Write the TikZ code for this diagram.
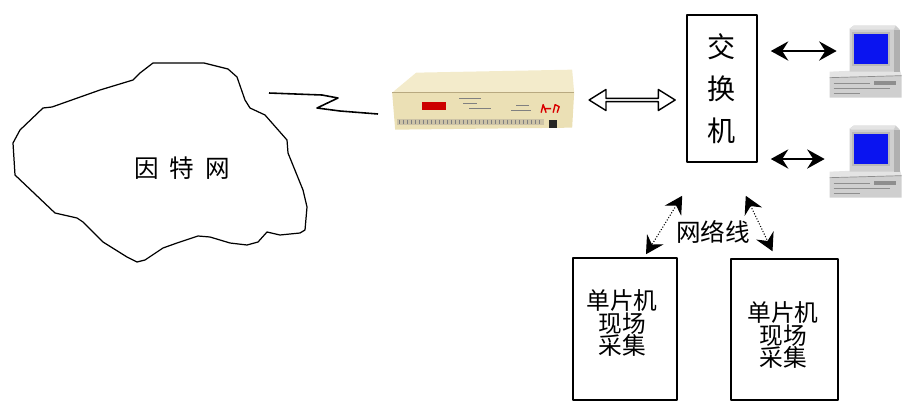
\documentclass[tikz,border=0pt]{standalone}
\usepackage{fontspec}
\newfontfamily\cjk{Noto Sans CJK SC}
\usepackage{xcolor}
\usetikzlibrary{arrows.meta,positioning,shapes.arrows}
\definecolor{modemTop}{HTML}{F3EBCB}
\definecolor{modemFace}{HTML}{EBE0B5}
\definecolor{modemEdge}{HTML}{B8A980}
\definecolor{pcLight}{HTML}{E4E4E4}
\definecolor{pcGray}{HTML}{CFCFCF}
\definecolor{pcDark}{HTML}{8E8E8E}
\definecolor{pcBlue}{HTML}{0A14F0}

% desktop computer, origin at the top left of its box
\newcommand{\deskpc}{%
  \fill[pcLight] (0,46) -- (70,43) -- (72,50) -- (0,52) -- cycle;
  \fill[pcGray] (0,52) -- (72,50) -- (72,72) -- (0,72) -- cycle;
  \draw[pcDark, line width=0.4pt] (0,52) -- (72,50);
  \draw[pcDark, line width=0.5pt] (4,58) -- (40,58) (4,63) -- (60,63) (4,68) -- (30,68);
  \fill[pcDark] (44,55) rectangle (66,59);
  \fill[pcGray] (20,3) -- (24,0) -- (66,0) -- (70,4) -- (70,46) -- (20,46) -- cycle;
  \fill[pcLight] (20,3) -- (24,0) -- (66,0) -- (64,4) -- (22,4) -- cycle;
  \fill[pcDark!70] (64,4) -- (70,4) -- (70,46) -- (64,46) -- cycle;
  \fill[gray!55] (22,6) rectangle (60,40);
  \fill[pcBlue] (24,8) rectangle (58,38);
}

\begin{document}
\begin{tikzpicture}[x=0.02cm, y=-0.02cm, line join=round,
  every node/.style={font=\cjk},
  box/.style={draw, line width=0.9pt, inner sep=0pt},
  hidden/.style={inner sep=0pt},
  biarrow/.style={{Stealth[length=10pt,width=11pt,inset=3.5pt]}-{Stealth[length=10pt,width=11pt,inset=3.5pt]}, line width=0.9pt},
  netarrow/.style={biarrow, line width=0.6pt, densely dotted},
  dblarrow/.style={double arrow, draw, line width=0.8pt, inner sep=0pt,
    minimum height=1.72cm, minimum width=0.42cm,
    double arrow head extend=0.08cm, double arrow tip angle=64},
  fieldtext/.style={align=center, font=\cjk\fontsize{13.5}{13}\selectfont}]

\useasboundingbox (0,0) rectangle (903,403);

% ---------- internet cloud ----------
\draw[line width=0.7pt] (153,63) -- (204,63) -- (228,69) -- (237,77) -- (245,100) -- (250,108)
  -- (265,115) -- (287,140) -- (288,153) -- (303,190) -- (307,207) -- (305,230) -- (300,233)
  -- (280,235) -- (267,232) -- (258,242) -- (247,245) -- (230,243) -- (210,237) -- (198,236)
  -- (177,243) -- (163,248) -- (145,260) -- (137,262) -- (127,257) -- (103,242) -- (83,222)
  -- (77,218) -- (55,213) -- (15,175) -- (13,143) -- (20,130) -- (43,108) -- (52,107)
  -- (100,90) -- (133,80) -- (140,73) -- cycle;
\node[font=\cjk\fontsize{14}{14}\selectfont] (inet) at (182,168) {因\hspace{0.45em}特\hspace{0.45em}网};

% radio link
\draw[line width=0.9pt] (269,93) -- (322,95) -- (338,98) -- (317,108) -- (340,111) -- (378,114);

% ---------- modem ----------
\node[hidden, minimum width=3.66cm, minimum height=1.24cm] (modem) at (483,100) {};
\begin{scope}[shift={(modem.north west)}]
  \fill[modemTop] (1,24) -- (25,4) -- (181,1) -- (183,24) -- cycle;
  \fill[modemFace] (1,24) -- (183,24) -- (181,59) -- (4,61) -- cycle;
  \draw[modemEdge, line width=0.4pt] (1,24) -- (183,24);
  \fill[red!80!black] (31,33) rectangle (55,41);
  \draw[gray, line width=0.3pt] (68,30) -- (90,30) (72,35) -- (86,35) (78,40) -- (100,40)
    (125,37) -- (138,37) (120,42) -- (140,42);
  \fill[modemEdge!70] (6,50) rectangle (153,56);
  \foreach \i in {8,12,...,150} \draw[gray, line width=0.3pt] (\i,51) -- (\i,55);
  \draw[red!85!black, line width=0.8pt] (150,44) -- (152,36) -- (155,44) (153,40) -- (160,40)
    (162,44) -- (164,36) -- (168,38) -- (166,44);
  \fill[black!85] (158,51) rectangle (166,59);
\end{scope}

% ---------- switch ----------
\node[box, minimum width=1.4cm, minimum height=2.94cm, align=center,
  font=\cjk\fontsize{16}{24}\selectfont] (switch) at (722,88.5) {交\\换\\机};
\node[dblarrow, right=0.26cm of modem] (link) {};

% ---------- computers ----------
\node[hidden, minimum width=1.44cm, minimum height=1.44cm] (pcA) at (866,62) {};
\node[hidden, minimum width=1.44cm, minimum height=1.44cm] (pcB) at (866,162) {};
\begin{scope}[shift={(pcA.north west)}] \deskpc \end{scope}
\begin{scope}[shift={(pcB.north west)}] \deskpc \end{scope}
\coordinate (pcTipA) at ([xshift=0.14cm,yshift=0.22cm]pcA.west);
\coordinate (pcTipB) at ([xshift=-0.1cm,yshift=0.06cm]pcB.west);
\draw[biarrow, shorten <=0.26cm] (switch.east |- pcTipA) -- (pcTipA);
\draw[biarrow, shorten <=0.26cm] (switch.east |- pcTipB) -- (pcTipB);

% ---------- field units ----------
\node[box, minimum width=2.08cm, minimum height=2.84cm] (fieldA) at (625,329) {};
\node[box, minimum width=2.14cm, minimum height=2.82cm] (fieldB) at (784.5,329.5) {};
\node[fieldtext] (fieldAtext) at ([xshift=-0.06cm,yshift=0.12cm]fieldA.center) {单片机\\现场\\采集};
\node[fieldtext] (fieldBtext) at ([xshift=-0.03cm,yshift=-0.11cm]fieldB.center) {单片机\\现场\\采集};

\coordinate (tapA) at ([xshift=-0.08cm,yshift=-0.66cm]switch.south west);
\coordinate (tapB) at ([xshift=-0.24cm,yshift=-0.66cm]switch.south east);
\draw[netarrow] (tapA) -- ([xshift=0.42cm,yshift=0.06cm]fieldA.north);
\draw[netarrow] (tapB) -- ([xshift=-0.24cm,yshift=0.14cm]fieldB.north);
\node[font=\cjk\fontsize{14}{14}\selectfont] (netlabel) at (713,232) {网络线};
\end{tikzpicture}
\end{document}
